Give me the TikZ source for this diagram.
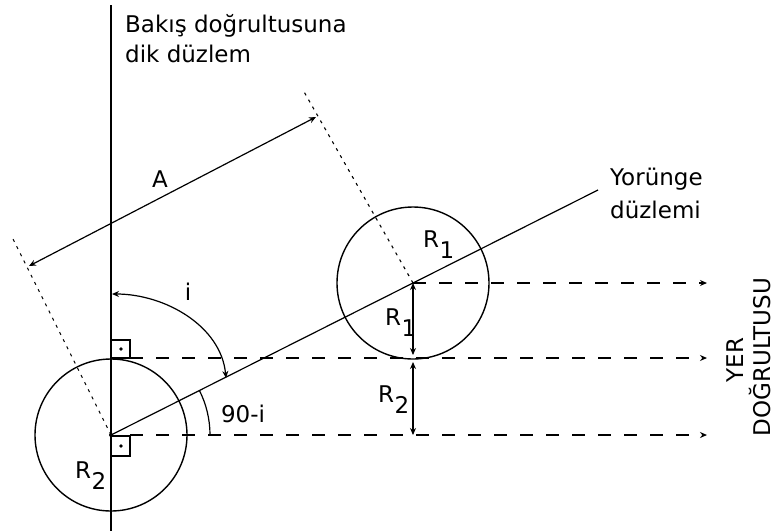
\documentclass[tikz,border=0pt]{standalone}
\usepackage{fontspec}
\setmainfont{DejaVu Sans}
\usetikzlibrary{arrows.meta}
\newcommand{\Rs}[1]{R\kern0.5pt\raisebox{-11pt}{#1}}
\begin{document}
\begin{tikzpicture}[x=1pt,y=-1pt,
  lbl/.style={inner sep=0pt,font=\fontsize{23}{27}\selectfont},
  tip/.style={-{Stealth[length=7pt,width=6pt]}},
  dtip/.style={{Stealth[length=7pt,width=6pt]}-{Stealth[length=7pt,width=6pt]}},
  dashln/.style={line width=1.6pt,dash pattern=on 13pt off 13pt},
  dotln/.style={line width=1.1pt,dash pattern=on 3pt off 5pt},
  thinln/.style={line width=1.2pt},
  body/.style={circle,draw,line width=1.4pt,minimum size=152pt,inner sep=0pt}]
\useasboundingbox (0,0) rectangle (777,531);
% key points
\coordinate (O2) at (111,435);
\coordinate (O1) at (413,283);
\coordinate (Yend) at (598,190);
\coordinate (Vtop) at (111,5);
\coordinate (Vbot) at (111,531);
% plane perpendicular to line of sight
\draw[line width=2pt] (Vtop) -- (Vbot);
% bodies
\node[body] (c2) at (O2) {};
\node[body] (c1) at (O1) {};
% orbit plane
\draw[thinln] (O2) -- (O1) -- (Yend);
% perpendicular dotted lines
\coordinate (P2) at (12,237);
\coordinate (P1) at (303,90);
\draw[dotln] (O2) -- (P2);
\draw[dotln] (O1) -- (P1);
% A arrow
\coordinate (As) at (29,266);
\coordinate (Ae) at (316,117);
\draw[thinln,dtip] (As) -- (Ae);
% horizontal dashed lines
\coordinate (h1s) at (413,283); \coordinate (h1e) at (707,283);
\coordinate (h2s) at (130,358); \coordinate (h2e) at (707,358);
\coordinate (h3s) at (130,435); \coordinate (h3e) at (707,435);
\draw[dashln,tip] (h1s) -- (h1e);
\draw[dashln,tip] (h2s) -- (h2e);
\draw[dashln,tip] (h3s) -- (h3e);
% right-angle marks
\draw[line width=1.1pt] (111,340) rectangle (130,358);
\fill (121,349) circle[radius=1.8pt];
\draw[line width=1.1pt] (111,436) rectangle (130,456);
\fill (121,446) circle[radius=1.8pt];
\fill (O2) circle[radius=2pt];
% R1 / R2 vertical arrows
\coordinate (r1a) at (413,283); \coordinate (r1b) at (413,355);
\coordinate (r2a) at (413,362); \coordinate (r2b) at (413,435);
\draw[line width=1.6pt,dtip] (r1a) -- (r1b);
\draw[line width=1.6pt,dtip] (r2a) -- (r2b);
% angle i
\coordinate (iS) at (112,294);
\coordinate (iE) at (226,378);
\draw[thinln,dtip] (iS) .. controls (165,294) and (221,326) .. (iE);
% angle 90-i
\draw[thinln] ([shift={(26.7:99pt)}]O2) arc[start angle=26.7,end angle=0,radius=99pt];
% labels
\node[lbl,anchor=base west] (t1) at (125,32) {Bakış doğrultusuna};
\node[lbl,anchor=base west] (t2) at (125,62) {dik düzlem};
\node[lbl,anchor=base west] (y1) at (610,185) {Yorünge};
\node[lbl,anchor=base west] (y2) at (610,218) {düzlemi};
\node[lbl,anchor=base] (lA) at (160,187) {A};
\node[lbl,anchor=base] (li) at (188,300) {i};
\node[lbl,anchor=base] (l90) at (243,422) {90-i};
\node[lbl,anchor=base west] (lR1c) at (423,247) {\Rs{1}};
\node[lbl,anchor=base west] (lR1a) at (385,325) {\Rs{1}};
\node[lbl,anchor=base west] (lR2a) at (378,402) {\Rs{2}};
\node[lbl,anchor=base west] (lR2c) at (75,478) {\Rs{2}};
\node[lbl,rotate=90,anchor=base] (yer) at (743,360) {YER};
\node[lbl,rotate=90,anchor=base] (dog) at (770,357) {DOĞRULTUSU};
\end{tikzpicture}
\end{document}
